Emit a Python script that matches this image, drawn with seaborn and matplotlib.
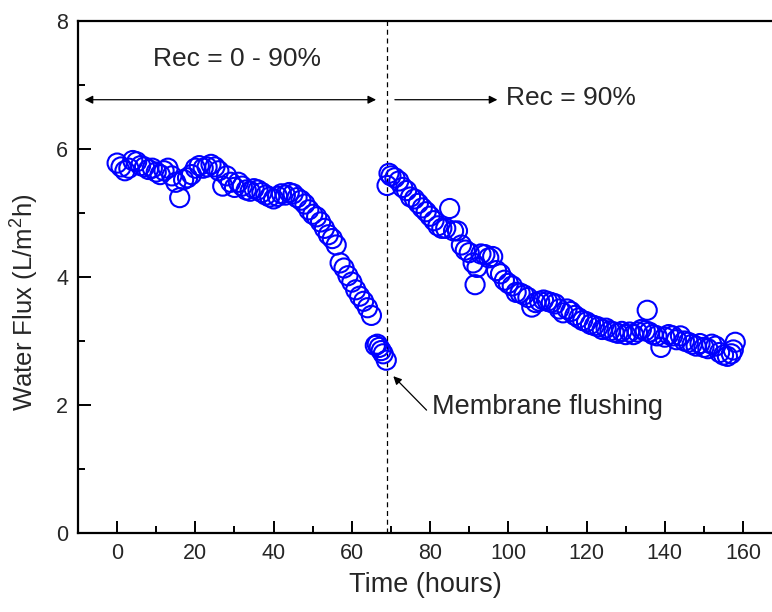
import numpy as np
import pandas as pd
import matplotlib
matplotlib.use("Agg")
import matplotlib.pyplot as plt
import seaborn as sns

# ---- data ----
time_phase1 = [0, 1, 2, 3, 4, 5, 6, 7, 8, 9, 10, 11, 12, 13, 14, 15, 16, 17, 18, 19,
               20, 21, 22, 23, 24, 25, 26, 27, 28, 29, 30, 31, 32, 33, 34, 35, 36, 37, 38, 39,
               40, 41, 42, 43, 44, 45, 46, 47, 48, 49, 50, 51, 52, 53, 54, 55, 56, 57, 58, 59,
               60, 61, 62, 63, 64, 65, 66, 66.5, 67, 67.5, 68, 68.8]
flux_phase1 = [5.78, 5.72, 5.66, 5.70, 5.82, 5.80, 5.74, 5.72, 5.68, 5.70, 5.64, 5.60, 5.66, 5.70, 5.58,
               5.48, 5.24, 5.52, 5.55, 5.60, 5.70, 5.74, 5.70, 5.72, 5.76, 5.72, 5.66, 5.42, 5.58, 5.48,
               5.40, 5.48, 5.42, 5.36, 5.34, 5.38, 5.36, 5.32, 5.28, 5.25, 5.22, 5.26, 5.30, 5.28, 5.32,
               5.30, 5.24, 5.20, 5.14, 5.05, 4.98, 4.94, 4.86, 4.76, 4.66, 4.60, 4.50, 4.22, 4.14, 4.02,
               3.92, 3.80, 3.70, 3.62, 3.52, 3.40, 2.93, 2.95, 2.90, 2.85, 2.80, 2.70]

time_phase2 = [69.0, 69.5, 70, 71, 72, 73, 74, 75, 76, 77, 78, 79, 80, 81, 82, 83, 84, 85, 86, 87,
               88, 89, 90, 91, 91.5, 92, 93, 94, 95, 96, 97, 98, 99, 100, 101, 102, 103, 104, 105, 106,
               107, 108, 109, 110, 111, 112, 113, 114, 115, 116, 117, 118, 119, 120, 121, 122, 123, 124,
               125, 126, 127, 128, 129, 130, 131, 132, 133, 134, 135, 135.5, 136, 137, 138, 139, 140,
               141, 142, 143, 144, 145, 146, 147, 148, 149, 150, 151, 152, 153, 154, 155, 156, 157,
               157.5, 158]
flux_phase2 = [5.43, 5.62, 5.58, 5.55, 5.50, 5.40, 5.35, 5.25, 5.22, 5.15, 5.08, 5.02, 4.95, 4.88, 4.80,
               4.76, 4.76, 5.07, 4.72, 4.72, 4.50, 4.42, 4.38, 4.22, 3.88, 4.15, 4.36, 4.35, 4.30, 4.32,
               4.10, 4.05, 3.95, 3.90, 3.86, 3.76, 3.75, 3.72, 3.68, 3.53, 3.60, 3.62, 3.64, 3.62, 3.60,
               3.58, 3.50, 3.44, 3.50, 3.46, 3.40, 3.36, 3.32, 3.30, 3.26, 3.24, 3.22, 3.18, 3.20, 3.16,
               3.14, 3.12, 3.15, 3.10, 3.14, 3.10, 3.14, 3.18, 3.16, 3.48, 3.14, 3.10, 3.08, 2.90, 3.06,
               3.10, 3.08, 3.02, 3.08, 3.00, 2.98, 2.95, 2.92, 2.96, 2.90, 2.88, 2.95, 2.92, 2.82, 2.78,
               2.76, 2.80, 2.86, 2.98]

x_ticks = [0, 20, 40, 60, 80, 100, 120, 140, 160]
y_ticks = [0, 2, 4, 6, 8]
flush_time = 69
x_label = "Time (hours)"
y_label = "Water Flux (L/m$^2$h)"

df = pd.DataFrame({"time": time_phase1 + time_phase2,
                   "flux": flux_phase1 + flux_phase2})

sns.set_style("ticks")
plt.rcParams["font.family"] = ["Liberation Sans", "DejaVu Sans"]
plt.rcParams["mathtext.fontset"] = "custom"
plt.rcParams["mathtext.rm"] = "Liberation Sans"

fig = plt.figure(figsize=(7.72, 6.12), dpi=100)
ax = fig.add_axes([78 / 772, 1 - 533 / 612, 1 - 78 / 772, (533 - 21) / 612])

sns.scatterplot(data=df, x="time", y="flux", ax=ax, marker="o", s=190,
                color="#0000FF", linewidth=1.5, legend=False, zorder=3)
for coll in ax.collections:
    coll.set_facecolor("none")
    coll.set_edgecolor("#0000FF")

ax.set_xlim(-10, 167.4)
ax.set_ylim(0, 8)
ax.set_xticks(x_ticks)
ax.set_yticks(y_ticks)
ax.set_xticks(np.arange(10, 170, 20), minor=True)
ax.set_yticks([1, 3, 5, 7], minor=True)
ax.tick_params(which="major", direction="in", length=9, width=1.4, labelsize=15.5, pad=7, color="black")
ax.tick_params(which="minor", direction="in", length=5, width=1.4, color="black")
ax.tick_params(top=False, right=False, which="both")

for side in ["left", "bottom", "top"]:
    ax.spines[side].set_linewidth(1.6)
    ax.spines[side].set_color("black")
ax.spines["right"].set_visible(False)

ax.set_xlabel(x_label, fontsize=19.5, labelpad=6)
ax.set_ylabel(y_label, fontsize=18.5)
ax.yaxis.set_label_coords(-0.055, 0.45)

ax.axvline(flush_time, color="black", linestyle=(0, (4, 3)), linewidth=0.9, zorder=1)

ax.annotate("", xy=(-8.3, 6.77), xytext=(66.2, 6.77),
            arrowprops=dict(arrowstyle="<|-|>", color="black", lw=0.9,
                            mutation_scale=12, shrinkA=0, shrinkB=0))
ax.text(30.7, 7.41, "Rec = 0 - 90%", fontsize=19, ha="center", va="center")

ax.annotate("", xy=(97.2, 6.77), xytext=(71.0, 6.77),
            arrowprops=dict(arrowstyle="-|>", color="black", lw=0.9,
                            mutation_scale=12, shrinkA=0, shrinkB=0))
ax.text(99.5, 6.8, "Rec = 90%", fontsize=19, ha="left", va="center")

ax.annotate("", xy=(70.6, 2.45), xytext=(79.1, 1.92),
            arrowprops=dict(arrowstyle="-|>", color="black", lw=0.9,
                            mutation_scale=12, shrinkA=0, shrinkB=0))
ax.text(80.6, 1.97, "Membrane flushing", fontsize=19.5, ha="left", va="center")

fig.savefig("out.png", dpi=100)
